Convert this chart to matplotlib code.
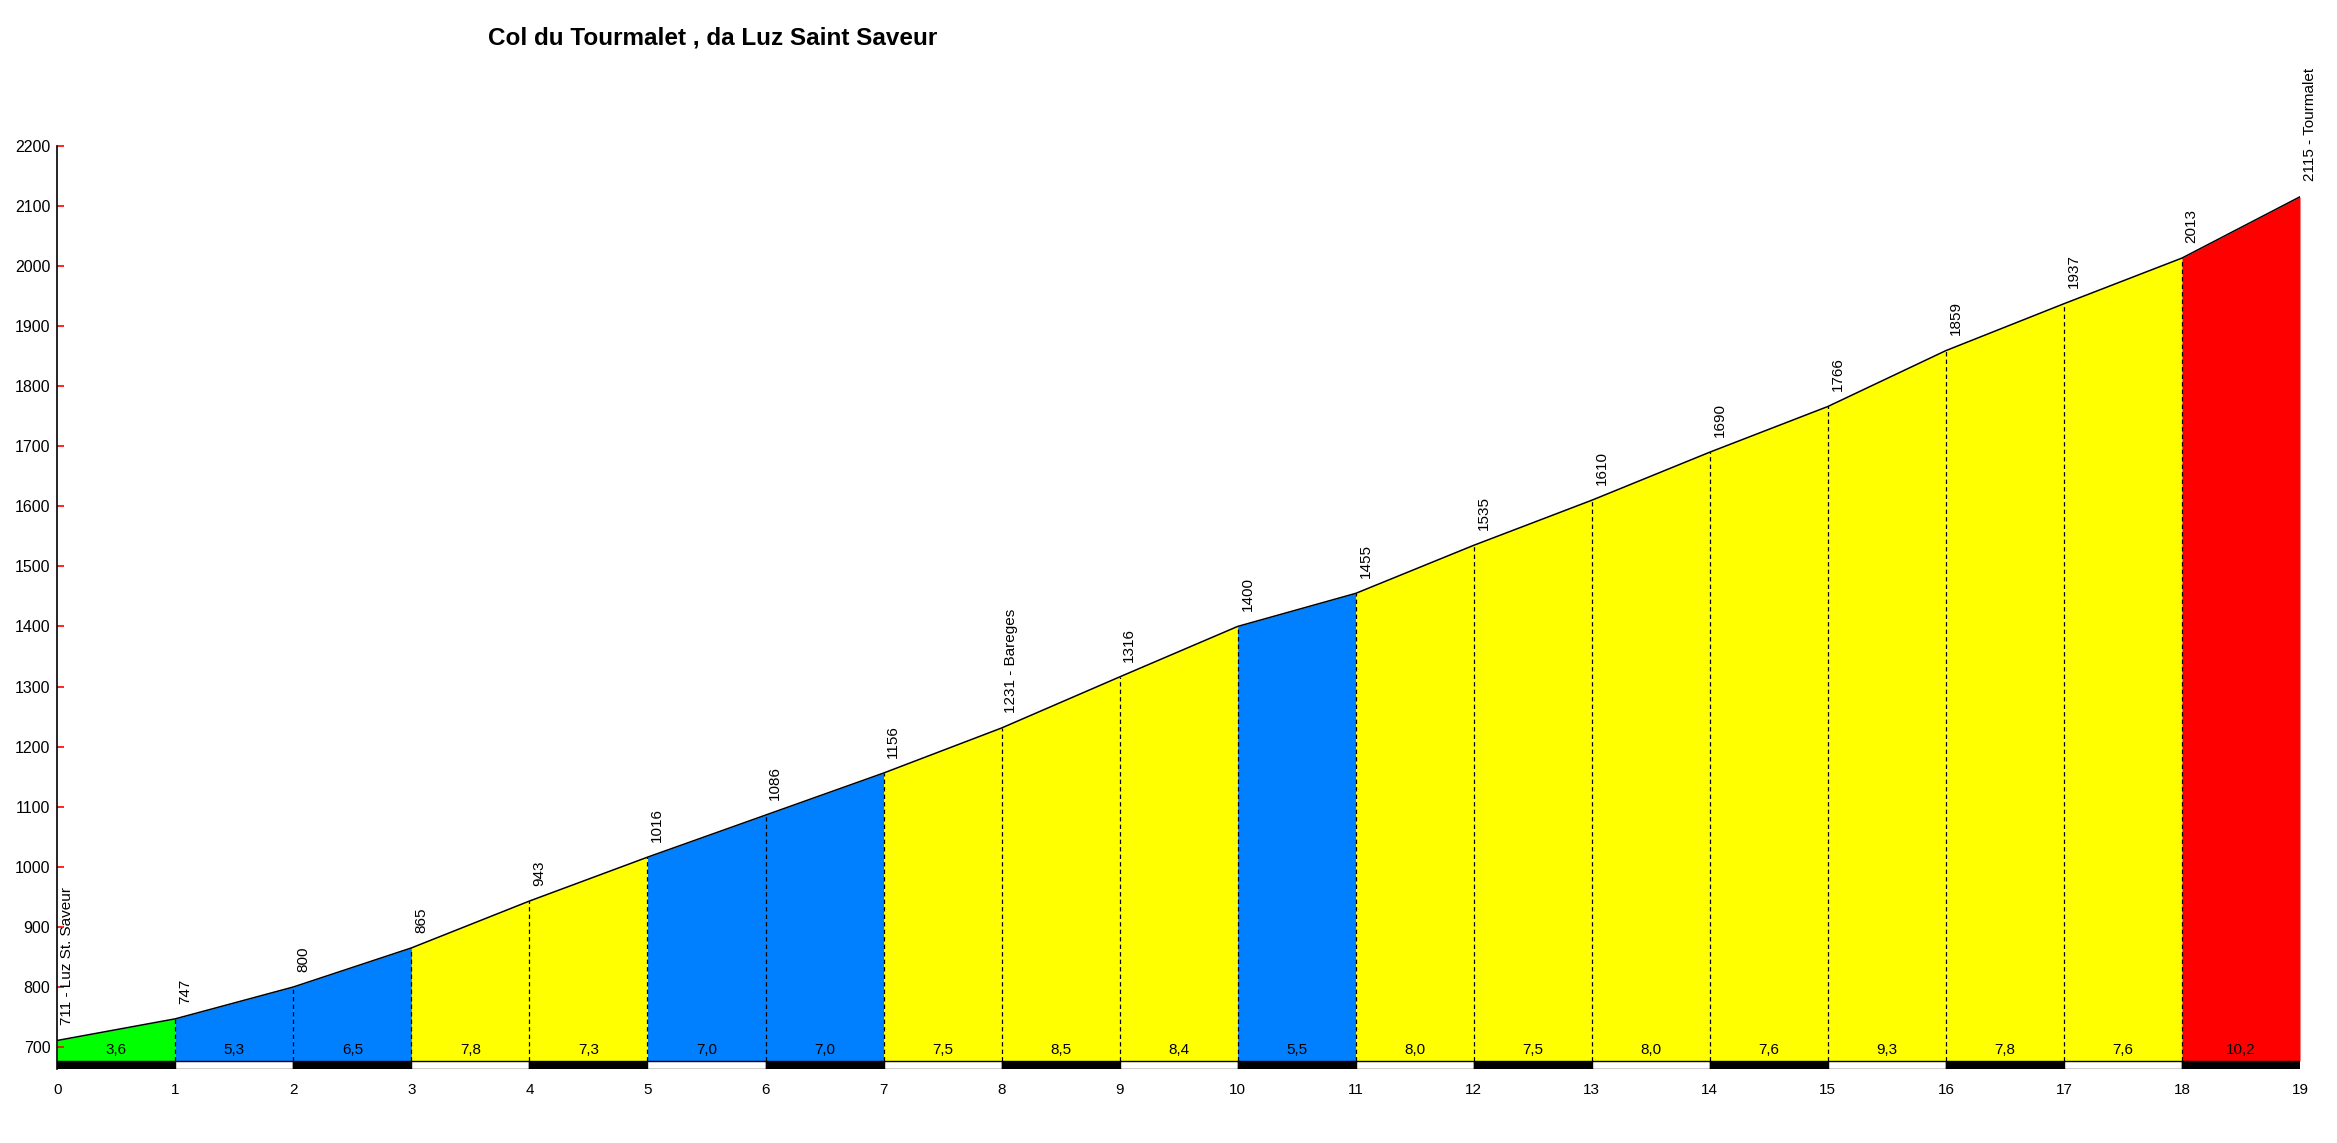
import matplotlib
matplotlib.use("Agg")
import matplotlib.pyplot as plt

# ---------------------------------------------------------------------------
# Data: Col du Tourmalet from Luz Saint Saveur, one point per km
# ---------------------------------------------------------------------------
km = list(range(20))
altitude = [711, 747, 800, 865, 943, 1016, 1086, 1156, 1231, 1316,
            1400, 1455, 1535, 1610, 1690, 1766, 1859, 1937, 2013, 2115]
gradient = ["3,6", "5,3", "6,5", "7,8", "7,3", "7,0", "7,0", "7,5", "8,5", "8,4",
            "5,5", "8,0", "7,5", "8,0", "7,6", "9,3", "7,8", "7,6", "10,2"]
place_names = {0: "Luz St. Saveur", 8: "Bareges", 19: "Tourmalet"}
y_ticks = list(range(700, 2201, 100))

TITLE = "Col du Tourmalet , da Luz Saint Saveur"

BASE = 677      # top of the km strip, fill starts here
STRIP_LO = 664  # bottom of the axes


def grade_colour(g):
    v = float(g.replace(",", "."))
    if v < 4:
        return "#00ff00"
    if v <= 7.0:
        return "#0080ff"
    if v < 10:
        return "#ffff00"
    return "#ff0000"


plt.rcParams["font.family"] = ["Liberation Sans", "DejaVu Sans"]

fig = plt.figure(figsize=(23.37, 11.43), dpi=100)
ax = fig.add_axes([57.3 / 2337, 1 - 1068.7 / 1143,
                   (2300 - 57.3) / 2337, (1068.7 - 145.7) / 1143])

# coloured segments
for i, g in enumerate(gradient):
    ax.fill_between(km[i:i + 2], altitude[i:i + 2], BASE,
                    color=grade_colour(g), linewidth=0)
    ax.text(km[i] + 0.5, 695, g, ha="center", va="center", fontsize=11)

# profile line
ax.plot(km, altitude, color="black", linewidth=1.1)

# dashed km separators
for i in km[1:-1]:
    ax.plot([km[i], km[i]], [BASE, altitude[i]], color="black",
            linewidth=0.9, linestyle=(0, (3.5, 2.5)))

# black / white km strip
strip_colours = ["black" if i % 2 == 0 else "white" for i in range(len(gradient))]
ax.bar(km[:-1], BASE - STRIP_LO, bottom=STRIP_LO, width=1, align="edge",
       color=strip_colours, edgecolor="black", linewidth=1)

# altitude labels
for i, h in enumerate(altitude):
    label = str(h)
    if i in place_names:
        label += " - " + place_names[i]
    ax.annotate(label, (km[i], h), xytext=(7, 11), textcoords="offset points",
                rotation=90, ha="center", va="bottom", fontsize=11)

ax.set_xlim(0, 19)
ax.set_ylim(STRIP_LO, 2200)
ax.set_xticks(km)
ax.set_yticks(y_ticks)
ax.tick_params(axis="y", direction="in", color="red", length=5, width=1.2,
               labelsize=11.5, pad=5)
ax.tick_params(axis="x", length=0, labelsize=11, pad=10)
ax.spines[["top", "right", "bottom"]].set_visible(False)
ax.spines["left"].set_linewidth(1.2)
ax.spines["left"].set_bounds(STRIP_LO, 2200)

fig.text(713 / 2337, 1 - 38 / 1143, TITLE, ha="center", va="center",
         fontsize=17.5, fontweight="bold",
         family=["Liberation Sans Narrow", "Liberation Sans", "DejaVu Sans"])

fig.savefig("out.png", dpi=100)
